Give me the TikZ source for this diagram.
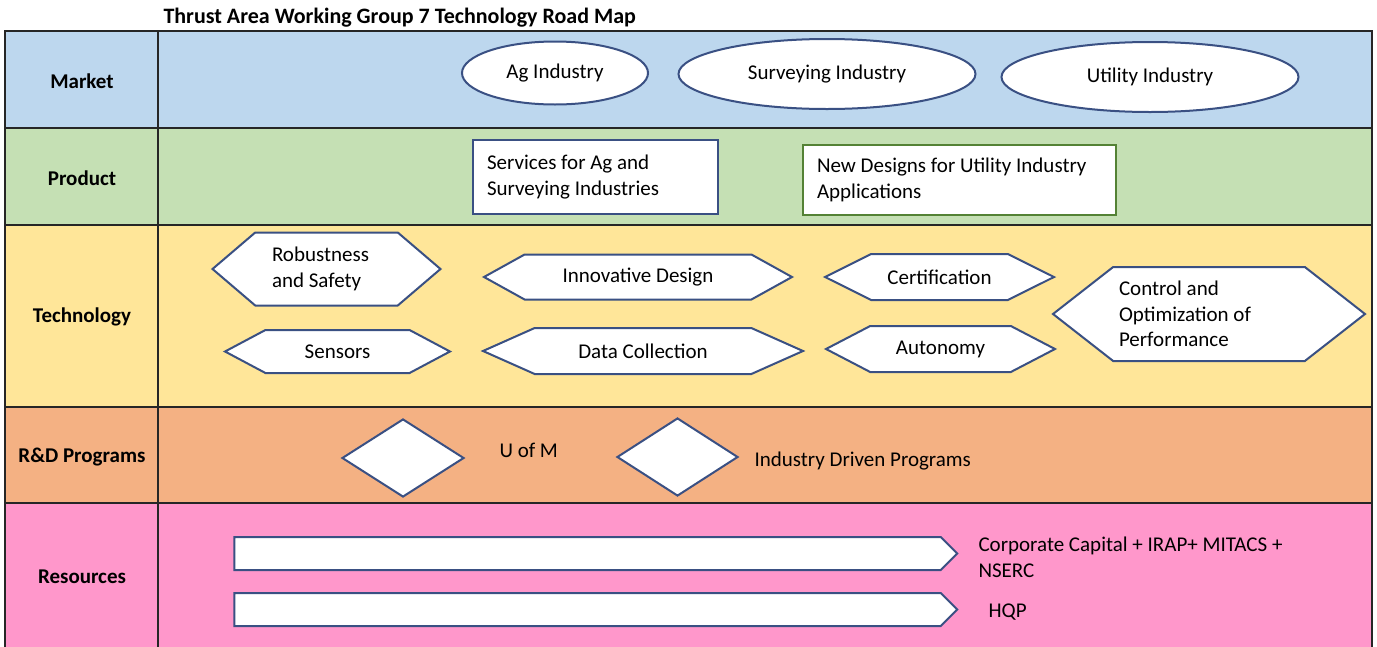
\documentclass[tikz,border=0pt]{standalone}
\usepackage{fontspec}
\setmainfont{Carlito}
\usetikzlibrary{shapes.geometric,shapes.symbols}
\definecolor{mktblue}{HTML}{BDD7EE}
\definecolor{prodgreen}{HTML}{C5E0B4}
\definecolor{techyellow}{HTML}{FFE699}
\definecolor{rdorange}{HTML}{F4B183}
\definecolor{respink}{HTML}{FF97CB}
\definecolor{edgeblue}{HTML}{3A5083}
\definecolor{edgegreen}{HTML}{548235}
\newcommand{\mapfont}{\fontsize{21}{25.5}\selectfont}
\tikzset{
  rowlabel/.style={font=\mapfont\bfseries},
  market/.style={ellipse, draw=edgeblue, line width=2pt, fill=white, inner sep=0pt},
  prodbox/.style={rectangle, draw=edgeblue, line width=2pt, fill=white, align=flush left, inner xsep=14pt},
  techhex/.style={signal, signal to=east and west, draw=edgeblue, line width=2pt, fill=white, align=flush left, inner sep=2pt},
  progdiam/.style={diamond, draw=edgeblue, line width=2pt, fill=white, inner sep=0pt},
  resarrow/.style={signal, signal to=east, signal pointer angle=90, draw=edgeblue, line width=2pt, fill=white, minimum width=723, minimum height=33},
  plain/.style={align=left, anchor=west}
}
\begin{document}
\begin{tikzpicture}[x=1pt,y=-1pt,font=\mapfont]
  \useasboundingbox (0,0) rectangle (1377,646);
  % rows of the road map
  \draw [black!85,line width=1.2pt,fill=mktblue] (5,31) rectangle (1372,128);
  \draw [black!85,line width=1.2pt,fill=prodgreen] (5,128) rectangle (1372,225);
  \draw [black!85,line width=1.2pt,fill=techyellow] (5,225) rectangle (1372,407);
  \draw [black!85,line width=1.2pt,fill=rdorange] (5,407) rectangle (1372,503);
  \draw [black!85,line width=1.2pt,fill=respink] (5,503) rectangle (1372,652);
  \draw [black!85,line width=1.2pt] (158,31) -- (158,652);
  \node [font=\fontsize{22}{25}\selectfont\bfseries,anchor=west] (title) at (160,18) {Thrust Area Working Group 7 Technology Road Map};
  \node [rowlabel] (market) at (82,81) {Market};
  \node [rowlabel] (product) at (82,178) {Product};
  \node [rowlabel] (technology) at (82,317) {Technology};
  \node [rowlabel] (rdprog) at (82,457) {R\&D Programs};
  \node [rowlabel] (resources) at (82,577) {Resources};
  % market
  \node [market,minimum width=186,minimum height=63] (ag) at (555,73) {Ag Industry};
  \node [market,minimum width=297,minimum height=70] (surv) at (827,74) {Surveying Industry};
  \node [market,minimum width=297,minimum height=70] (util) at (1150,77) {Utility Industry};
  % product
  \node [prodbox,text width=217,minimum height=74] (services) at (595.5,177) {Services for Ag and\\Surveying Industries};
  \node [prodbox,draw=edgegreen,text width=285,minimum height=70] (newdesign) at (959.5,180) {New Designs for Utility Industry\\Applications};
  % technology
  \node [techhex,text width=109,minimum width=228,minimum height=73,signal pointer angle=81] (robust) at (326.5,269) {Robustness\\and Safety};
  \node [techhex,minimum width=308,minimum height=45,signal pointer angle=58] (innov) at (638,277) {Innovative Design};
  \node [techhex,minimum width=229,minimum height=46,signal pointer angle=53] (cert) at (939.5,277) {Certification};
  \node [techhex,minimum width=225,minimum height=43,signal pointer angle=56] (sensors) at (337.5,351.5) {Sensors};
  \node [techhex,minimum width=320,minimum height=46,signal pointer angle=48] (datacol) at (643,351) {Data Collection};
  \node [techhex,minimum width=229,minimum height=46,signal pointer angle=55] (autonomy) at (940.5,349) {Autonomy};
  \node [techhex,text width=180,minimum width=312,minimum height=94,signal pointer angle=76] (control) at (1209,314) {Control and\\Optimization of\\Performance};
  % r&d programs
  \node [progdiam,minimum width=122,minimum height=78] (uofm) at (403,458) {};
  \node [progdiam,minimum width=121,minimum height=78] (induprog) at (677.5,457) {};
  \node [plain] (uofmlbl) at (496,450) {U of M};
  \node [plain] (induproglbl) at (751,461) {Industry Driven Programs};
  % resources
  \node [resarrow] (capbar) at (587.5,553.5) {};
  \node [resarrow] (hqpbar) at (587.5,609.5) {};
  \node [plain] (caplbl) at (975,557.5) {Corporate Capital + IRAP+ MITACS +\\NSERC};
  \node [plain] (hqplbl) at (985,612) {HQP};
\end{tikzpicture}
\end{document}
